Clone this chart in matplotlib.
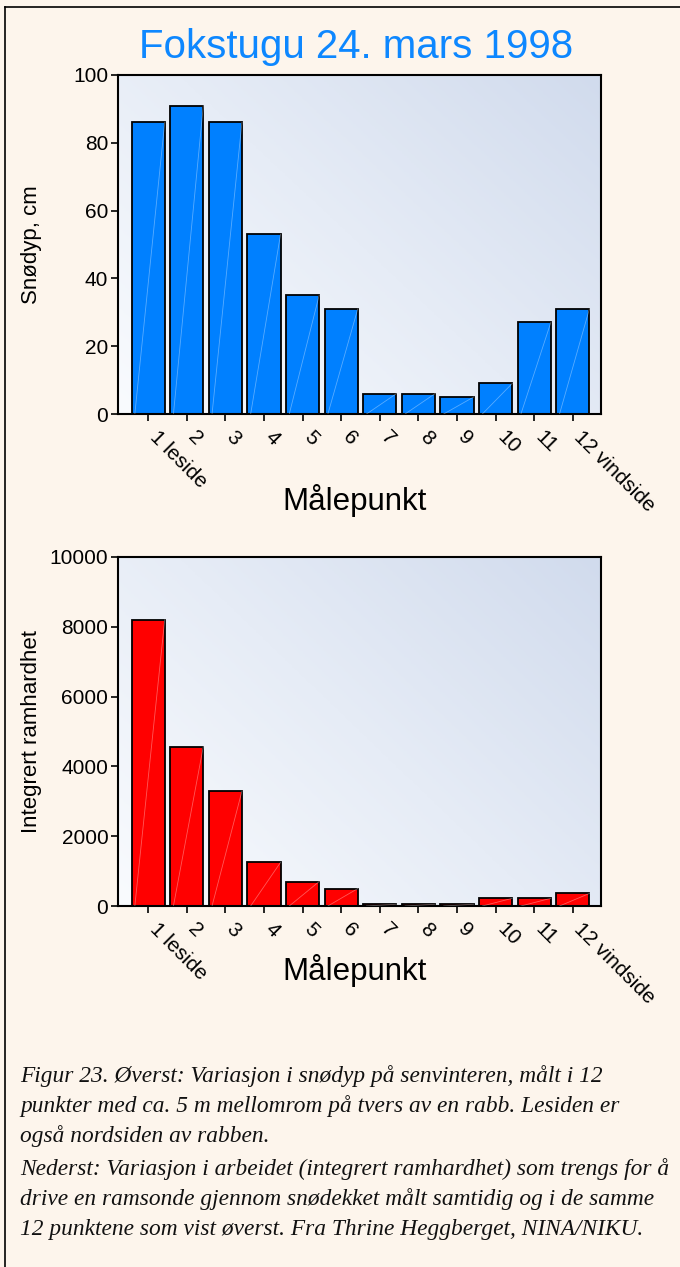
import numpy as np
import matplotlib
matplotlib.use("Agg")
import matplotlib.pyplot as plt
from matplotlib.lines import Line2D
from matplotlib.colors import LinearSegmentedColormap
from matplotlib.transforms import ScaledTranslation

# Measurement points across the ridge
points = ["1 leside", "2", "3", "4", "5", "6", "7", "8", "9", "10", "11", "12 vindside"]
snow_depth_cm = [86, 91, 86, 53, 35, 31, 6, 6, 5, 9, 27, 31]
ram_hardness = [8200, 4570, 3290, 1250, 700, 500, 50, 50, 50, 220, 220, 360]

title_text = "Fokstugu 24. mars 1998"
xlabel_text = "Målepunkt"
ylabel_top = "Snødyp, cm"
ylabel_bottom = "Integrert ramhardhet"
caption_lines = [
    "Figur 23. Øverst: Variasjon i snødyp på senvinteren, målt i 12",
    "punkter med ca. 5 m mellomrom på tvers av en rabb. Lesiden er",
    "også nordsiden av rabben.",
    "Nederst: Variasjon i arbeidet (integrert ramhardhet) som trengs for å",
    "drive en ramsonde gjennom snødekket målt samtidig og i de samme",
    "12 punktene som vist øverst. Fra Thrine Heggberget, NINA/NIKU.",
]

W, H = 680, 1267
BG = "#FDF5EC"
SANS = ["Liberation Sans", "DejaVu Sans"]
SERIF = ["Liberation Serif", "DejaVu Serif"]

plt.rcParams["font.family"] = SANS

fig = plt.figure(figsize=(W / 100, H / 100), dpi=100, facecolor=BG)

grad_cmap = LinearSegmentedColormap.from_list("panel", ["#F9FBFE", "#E6ECF6", "#D1DBED"])


def panel(rect, values, ymax, yticks, color, ylabel):
    ax = fig.add_axes(rect)
    ax.set_facecolor("none")
    # diagonal light-to-dark background inside the plotting area
    gx, gy = np.meshgrid(np.linspace(0, 1, 200), np.linspace(0, 1, 200))
    t = 0.57 * gx + 0.43 * gy
    ax.imshow(t, cmap=grad_cmap, origin="lower", extent=[0, 1, 0, 1],
              transform=ax.transAxes, aspect="auto", zorder=0, interpolation="bilinear")
    x = np.arange(1, len(values) + 1)
    bars = ax.bar(x, values, width=0.86, color=color, edgecolor="black",
                  linewidth=1.3, zorder=2)
    for b in bars:
        x0, w, h = b.get_x(), b.get_width(), b.get_height()
        ax.plot([x0 + 0.1 * w, x0 + w], [0, h], color="white", alpha=0.35,
                linewidth=0.6, zorder=3)
    ax.set_xlim(0.22, len(values) + 0.73)
    ax.set_ylim(0, ymax)
    ax.set_yticks(yticks)
    ax.set_yticklabels([str(v) for v in yticks], fontsize=15)
    ax.set_xticks(x)
    ax.set_xticklabels(points, fontsize=15, rotation=-45, ha="left",
                       va="top", rotation_mode="anchor")
    ax.tick_params(axis="both", direction="out", length=5, width=1.2,
                   color="black", pad=2)
    ax.tick_params(axis="x", pad=4)
    shift = ScaledTranslation(11 / 100, -1 / 100, fig.dpi_scale_trans)
    for lab in ax.get_xticklabels():
        lab.set_transform(lab.get_transform() + shift)
    for s in ax.spines.values():
        s.set_linewidth(1.5)
        s.set_color("black")
    fig.text(32 / W, rect[1] + rect[3] / 2, ylabel, fontsize=16, rotation=90,
             ha="center", va="center")
    return ax


ax1 = panel([118 / W, 1 - 414 / H, 483 / W, 339 / H], snow_depth_cm, 100,
            [0, 20, 40, 60, 80, 100], "#0080FF", ylabel_top)
ax2 = panel([118 / W, 1 - 906 / H, 483 / W, 349 / H], ram_hardness, 10000,
            [0, 2000, 4000, 6000, 8000, 10000], "#FF0000", ylabel_bottom)

fig.text(356 / W, 1 - 58.5 / H, title_text, fontsize=29, color="#0D87FF",
         ha="center", va="baseline")
fig.text(355 / W, 1 - 510 / H, xlabel_text, fontsize=22.5, ha="center", va="baseline")
fig.text(355 / W, 1 - 980 / H, xlabel_text, fontsize=22.5, ha="center", va="baseline")

baselines = [1082, 1112, 1142, 1175, 1205, 1235]
for line, yb in zip(caption_lines, baselines):
    fig.text(20 / W, 1 - yb / H, line, fontsize=16.8, family=SERIF,
             style="italic", ha="left", va="baseline", color="#111111")

# frame lines along the top and left edge of the page
fig.add_artist(Line2D([5 / W, 1], [1 - 7 / H, 1 - 7 / H], color="black", linewidth=1.2))
fig.add_artist(Line2D([5 / W, 5 / W], [0, 1 - 7 / H], color="black", linewidth=1.2))

fig.savefig("out.png", dpi=100, facecolor=BG)
